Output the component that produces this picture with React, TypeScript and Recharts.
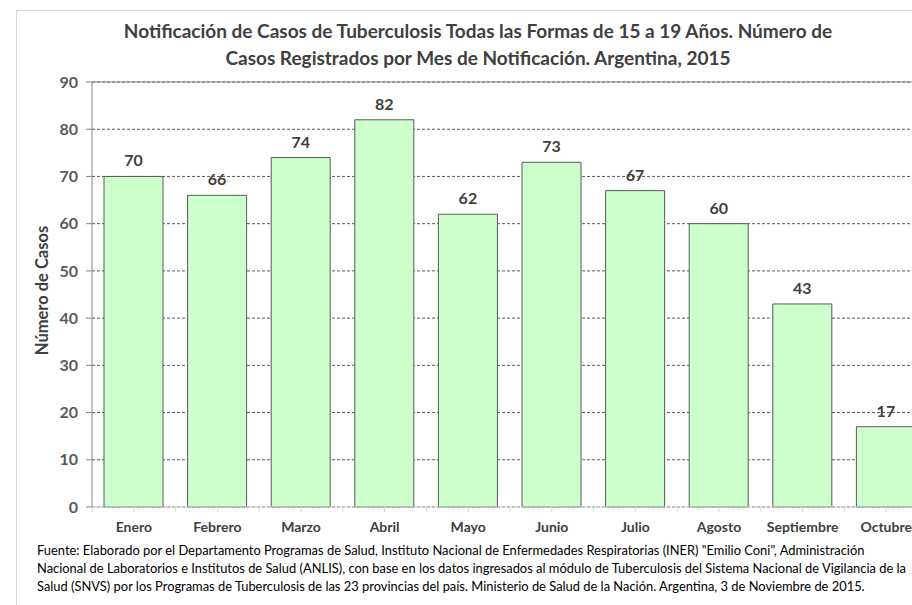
import { BarChart, Bar, XAxis, YAxis, CartesianGrid, LabelList, ReferenceLine, Label } from 'recharts';

const months = ['Enero', 'Febrero', 'Marzo', 'Abril', 'Mayo', 'Junio', 'Julio', 'Agosto', 'Septiembre', 'Octubre'];
const casos = [70, 66, 74, 82, 62, 73, 67, 60, 43, 17];
const yTicks = [0, 10, 20, 30, 40, 50, 60, 70, 80, 90];

const titleLines = [
  'Notificación de Casos de Tuberculosis Todas las Formas de 15 a 19 Años. Número de',
  'Casos Registrados por Mes de Notificación. Argentina, 2015',
];
const sourceLines = [
  'Fuente: Elaborado por el Departamento Programas de Salud, Instituto Nacional de Enfermedades Respiratorias (INER) "Emilio Coni", Administración',
  'Nacional de Laboratorios e Institutos de Salud (ANLIS), con base en los datos ingresados al módulo de Tuberculosis del Sistema Nacional de Vigilancia de la',
  'Salud (SNVS) por los Programas de Tuberculosis de las 23 provincias del país. Ministerio de Salud de la Nación. Argentina,  3 de  Noviembre de 2015.',
];

const data = months.map((mes, i) => ({ mes, casos: casos[i] }));

const font = 'Lato, "Open Sans", sans-serif';
const X_TICK_SIZE = 5;
const X_TICK_MARGIN = 4;

function AxisTitle({ viewBox }: any) {
  const cx = 42;
  const cy = viewBox.y + viewBox.height / 2 - 4;
  return (
    <text
      x={cx}
      y={cy}
      transform={`rotate(-90 ${cx} ${cy})`}
      textAnchor="middle"
      dominantBaseline="central"
      fontFamily={font}
      fontWeight="bold"
      fontSize={16.5}
      fill="#404040"
    >
      Número de Casos
    </text>
  );
}

// month label plus a small divider tick on the left edge of each category
function MonthTick({ x, y, payload }: any) {
  const axisY = y - X_TICK_SIZE - X_TICK_MARGIN;
  const half = payload && payload.offset ? payload.offset : 0;
  return (
    <g>
      {half > 0 && <line x1={x - half} x2={x - half} y1={axisY} y2={axisY + X_TICK_SIZE} stroke="#d9d9d9" />}
      <text x={x} y={y} dy={16} textAnchor="middle" fontFamily={font} fontWeight="bold" fontSize={14} fill="#404040">
        {payload.value}
      </text>
    </g>
  );
}

export default function App() {
  return (
    <div style={{ position: 'fixed', left: 0, top: 0, width: 912, height: 605, overflow: 'hidden', background: '#fff', fontFamily: font }}>
      <div style={{ position: 'absolute', left: 16, top: 10, width: 1000, height: 700, borderLeft: '1px solid #d9d9d9', borderTop: '1px solid #d9d9d9' }} />
      {titleLines.map((t, i) => (
        <div
          key={i}
          style={{ position: 'absolute', left: 0, width: 956, top: 20 + i * 27, textAlign: 'center', fontWeight: 'bold', fontSize: 19, color: '#404040', whiteSpace: 'nowrap', lineHeight: '22px' }}
        >
          {t}
        </div>
      ))}
      <div style={{ position: 'absolute', left: 0, top: 0 }}>
        <BarChart width={940} height={605} data={data} margin={{ top: 82, right: 12, bottom: 68, left: 0 }}>
          <CartesianGrid vertical={false} stroke="#595959" strokeDasharray="3 2" />
          <XAxis
            dataKey="mes"
            height={30}
            axisLine={{ stroke: '#d9d9d9' }}
            tickLine={{ stroke: '#d9d9d9' }}
            tickSize={X_TICK_SIZE}
            tickMargin={X_TICK_MARGIN}
            tick={<MonthTick />}
            interval={0}
          />
          <YAxis
            width={92}
            domain={[0, 90]}
            ticks={yTicks}
            axisLine={{ stroke: '#868686' }}
            tickLine={{ stroke: '#868686' }}
            tickSize={6}
            tickMargin={8}
            tick={{ fontFamily: font, fontWeight: 'bold', fontSize: 16, fill: '#595959' }}
          >
            <Label content={<AxisTitle />} />
          </YAxis>
          <ReferenceLine y={90} stroke="#868686" />
          <Bar dataKey="casos" fill="#ccffcc" stroke="#595959" strokeWidth={1} barSize={59} isAnimationActive={false}>
            <LabelList dataKey="casos" position="top" offset={10} fontFamily={font} fontWeight="bold" fontSize={16} fill="#404040" />
          </Bar>
        </BarChart>
      </div>
      {sourceLines.map((t, i) => (
        <div
          key={i}
          style={{ position: 'absolute', left: 37, top: 541 + i * 18, fontSize: 12.9, color: '#000', whiteSpace: 'nowrap', lineHeight: '18px' }}
        >
          {t}
        </div>
      ))}
    </div>
  );
}
